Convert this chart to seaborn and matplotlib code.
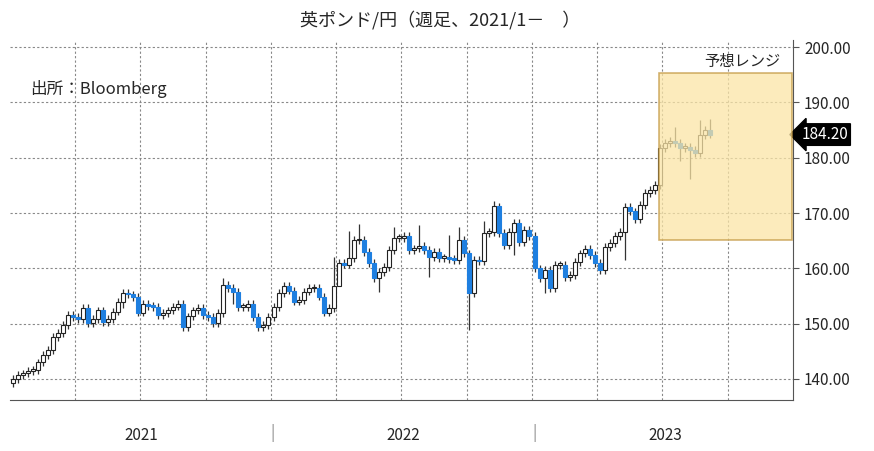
import numpy as np
import pandas as pd
import matplotlib
matplotlib.use("Agg")
import matplotlib.pyplot as plt
import seaborn as sns
from matplotlib.patches import Rectangle

# weekly closes, GBP/JPY, Jan 2021 onward
closes = [
    140, 140.7, 141, 141.5, 141.6, 143, 144.3, 145.2, 147.6, 148.3, 149.8, 151.6, 151.2, 150.8,
    152.8, 150.1, 150.8, 152.4, 150.3, 150.8, 152.2, 154, 155.5, 155.3, 154.8, 152, 153.5, 153.2,
    153, 151.6, 151.9, 152.4, 153.1, 153.5, 149.4, 151.3, 152.4, 152.8, 151.6, 151.2, 150.1, 151.9,
    157, 156.5, 155.7, 153, 153, 153.6, 151.2, 149.4, 149.8, 151.2, 153, 155.5,
    156.8, 156, 154, 154.3, 155.8, 156.4, 156.5, 154.9, 152, 152.8, 156.8, 161, 160.7, 161.9,
    165.1, 165.1, 163, 161, 158.3, 159.4, 160.3, 163.3, 165.5, 165.5, 165.9, 163.3, 163.6, 164,
    163.3, 162.1, 163, 161.9, 161.9, 161.7, 161.5, 165.1, 162.7, 155.5, 161.5, 161.3, 166.4, 166.6,
    171.2, 166.4, 164.2, 166.6, 168.2, 164.8, 167, 165.9, 160, 158.3,
    159.7, 156.4, 160.6, 160.6, 158.5, 158.8, 161.2, 162.7, 163.5, 162.4, 161, 159.7, 163.9, 164.6,
    165.9, 166.6, 171.1, 170.3, 168.9, 171.5, 173.6, 174.2, 175.1, 181.8, 182.7, 183.1, 182.7, 181.8,
    182, 181.4, 180.9, 184.1, 185, 184.2,
]
first_open = 139.2
# notable wicks: index -> extreme price
high_override = {42: 158.2, 64: 162, 67: 166.8, 69: 168, 76: 167.5, 81: 167.8, 87: 166, 89: 167.5,
                 94: 168.5, 96: 172.2, 132: 185.5, 137: 186.8, 139: 187}
low_override = {44: 153.5, 22: 152.8, 65: 158, 73: 155.8, 83: 158.5, 91: 148.8, 106: 155.5,
                122: 161.5, 133: 179.5, 135: 176.2, 100: 162.5}
year_labels = ["2021", "2022", "2023"]
last_label = "184.20"

opens = [first_open] + closes[:-1]
df = pd.DataFrame({"open": opens, "close": closes})
df["i"] = np.arange(len(df))
df["high"] = df[["open", "close"]].max(axis=1) + 0.7
df["low"] = df[["open", "close"]].min(axis=1) - 0.7
for k, v in high_override.items():
    df.loc[k, "high"] = v
for k, v in low_override.items():
    df.loc[k, "low"] = v
df["up"] = df["close"] >= df["open"]

sns.set_style("white")
plt.rcParams["font.family"] = ["Noto Sans CJK JP", "DejaVu Sans"]

fig = plt.figure(figsize=(8.74, 4.51), dpi=100)
ax = fig.add_axes([10 / 874, 1 - 400 / 451, 783 / 874, 360 / 451])
ax.set_xlim(-0.5, 155.5)
ax.set_ylim(136.2, 201.3)

# grid
for y in range(140, 201, 10):
    ax.axhline(y, color="#888888", ls=(0, (2, 2)), lw=0.8, zorder=0)
for q in range(13, 156, 13):
    ax.axvline(q - 0.5, color="#888888", ls=(0, (2, 2)), lw=0.8, zorder=0)

# wicks and bodies
ax.vlines(df["i"], df["low"], df["high"], color="#333333", lw=0.9, zorder=2)
body_lo = df[["open", "close"]].min(axis=1)
body_h = (df["close"] - df["open"]).abs().clip(lower=0.3)
up = df[df["up"]]
dn = df[~df["up"]]
ax.bar(up["i"], body_h[df["up"]], bottom=body_lo[df["up"]], width=0.8,
       color="white", edgecolor="#222222", linewidth=0.8, zorder=3)
ax.bar(dn["i"], body_h[~df["up"]], bottom=body_lo[~df["up"]], width=0.8,
       color="#1e7fe0", edgecolor="#1e7fe0", linewidth=0.8, zorder=3)

# forecast range box
ax.add_patch(Rectangle((128.9, 165.1), 26.5, 30.2, facecolor="#fbe5a6", alpha=0.75,
                       edgecolor="#c49a45", lw=1.2, zorder=4))
ax.text(153, 197.5, "予想レンジ", ha="right", va="center", fontsize=11, zorder=5)
ax.text(3.5, 192.5, "出所：Bloomberg", ha="left", va="center", fontsize=12)

# axes look
for s in ["top", "left"]:
    ax.spines[s].set_visible(False)
ax.spines["right"].set_color("#555555")
ax.spines["bottom"].set_color("#555555")
ax.yaxis.tick_right()
ax.set_yticks(range(140, 201, 10))
ax.set_yticklabels([f"{v:.2f}" for v in range(140, 201, 10)], fontsize=11)
ax.tick_params(axis="y", length=4, direction="out", pad=4, color="#555555")
ax.set_xticks(np.arange(0, 156, 4.33) - 0.5)
ax.set_xticklabels([])
ax.tick_params(axis="x", length=3, direction="out", color="#555555")
ax.annotate(last_label, xy=(1.0, 184.2), xycoords=("axes fraction", "data"),
            xytext=(6, 0), textcoords="offset points", ha="left", va="center",
            fontsize=11, color="white",
            bbox=dict(boxstyle="larrow,pad=0.15", fc="black", ec="black"))

# year band
for j, lab in enumerate(year_labels):
    fig.text((10 + 26 * 5.04 + j * 262) / 874, 1 - 435 / 451, lab, ha="center", va="center", fontsize=11)
for xs in [273, 535]:
    fig.text(xs / 874, 1 - 433 / 451, "|", ha="center", va="center", fontsize=11, color="#888888")

fig.text(440 / 874, 1 - 20 / 451, "英ポンド/円（週足、2021/1－　）", ha="center", va="center", fontsize=13)
fig.savefig("out.png", dpi=100)
